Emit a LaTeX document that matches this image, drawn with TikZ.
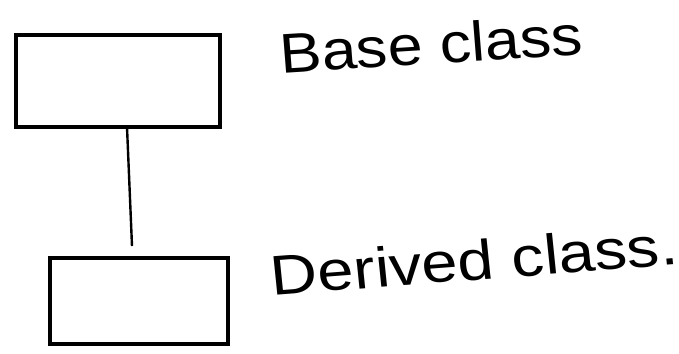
\documentclass[tikz,border=0pt]{standalone}
\usepackage{fontspec}
\setmainfont{Liberation Sans}
\begin{document}
\begin{tikzpicture}[x=1pt,y=-1pt,
  box/.style={draw=black,line width=3.4pt,rectangle,inner sep=0pt},
  lbl/.style={font=\fontsize{56}{60}\selectfont,text=black,inner sep=0pt}]
\useasboundingbox (0,0) rectangle (679,353);
\node[box,minimum width=204pt,minimum height=92pt] (base) at (118,81) {};
\node[box,minimum width=178pt,minimum height=86pt] (derived) at (139,301) {};
\coordinate (c1) at (127,127);
\coordinate (c2) at (132,246);
\draw[line width=2.4pt] (c1) -- (c2);
\node[lbl,xscale=1.12,rotate=4,anchor=center] (tb) at (431,44) {Base class};
\node[lbl,xscale=1.16,rotate=5,anchor=center] (td) at (474,260) {Derived class.};
\end{tikzpicture}
\end{document}
